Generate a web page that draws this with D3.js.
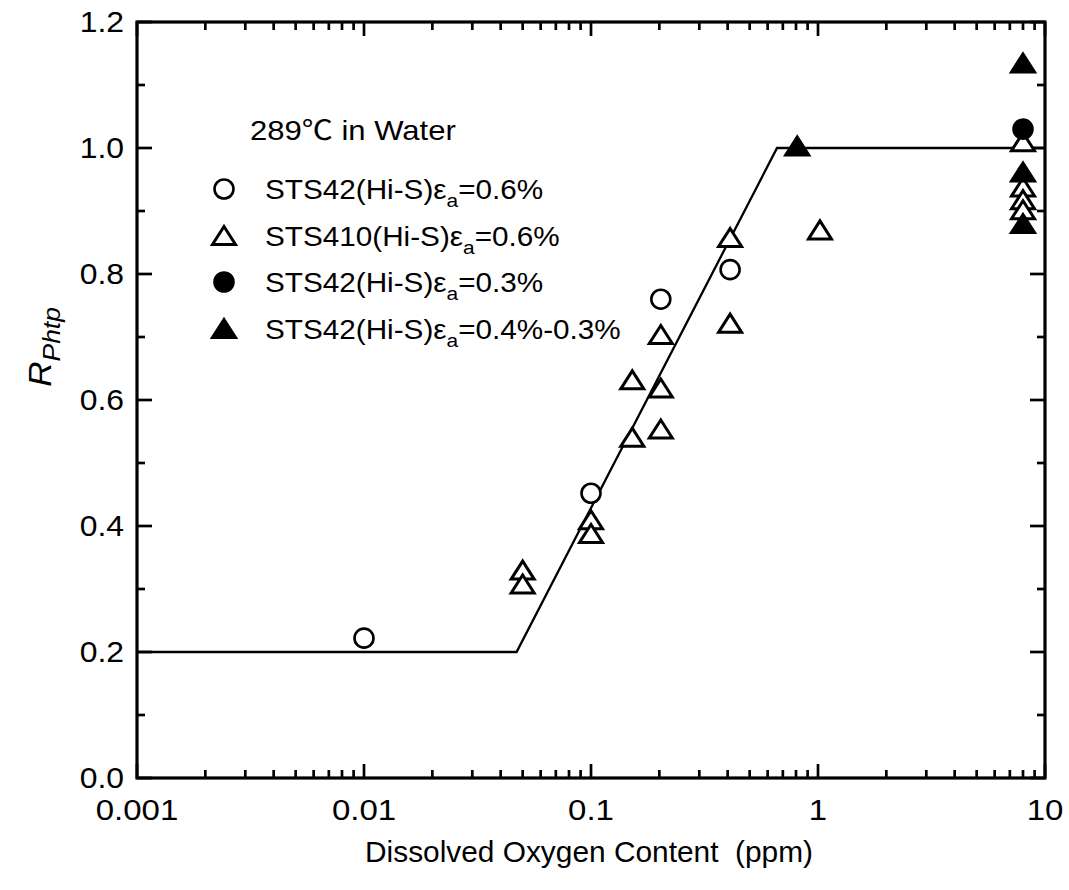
<!DOCTYPE html>
<html>
<head>
<meta charset="utf-8">
<script src="https://cdn.jsdelivr.net/npm/d3@7"></script>
<style>
  body { margin: 0; background: #fff; }
  svg text { font-family: "Liberation Sans", Arial, sans-serif; fill: #000; white-space: pre; }
</style>
</head>
<body>
<svg width="1069" height="890"></svg>
<script>
// series: [oxygen ppm, R_Phtp]
const openCircles = [[0.01, 0.222], [0.1, 0.452], [0.203, 0.76], [0.41, 0.807]]
const openTriangles = [
  [0.05, 0.33], [0.05, 0.308], [0.1, 0.41], [0.1, 0.388],
  [0.152, 0.632], [0.152, 0.541], [0.203, 0.619], [0.203, 0.554], [0.203, 0.704],
  [0.41, 0.858], [0.41, 0.722], [1.02, 0.87],
  [8, 1.01], [8, 0.938], [8, 0.918], [8, 0.902]
]
const filledCircles = [[8, 1.03]]
const filledTriangles = [[0.81, 1.003], [8, 1.135], [8, 0.962], [8, 0.88]]
const fitLine = [[0.001, 0.2], [0.047, 0.2], [0.66, 1.0], [10, 1.0]]

const xTicks = [0.001, 0.01, 0.1, 1, 10]
const xTickLabels = ['0.001', '0.01', '0.1', '1', '10']
const yTicks = [0, 0.2, 0.4, 0.6, 0.8, 1.0, 1.2]
const yMinor = [0.1, 0.3, 0.5, 0.7, 0.9, 1.1]

const legendItems = [
  { type: 'circle', fill: false, label: ['STS42(Hi-S)ε', 'a', '=0.6%'] },
  { type: 'triangle', fill: false, label: ['STS410(Hi-S)ε', 'a', '=0.6%'] },
  { type: 'circle', fill: true, label: ['STS42(Hi-S)ε', 'a', '=0.3%'] },
  { type: 'triangle', fill: true, label: ['STS42(Hi-S)ε', 'a', '=0.4%-0.3%'] }
]

const svg = d3.select('svg')
const pLeft = 137, pRight = 1045, pTop = 22, pBottom = 778
const sx = 1.1 // the scanned lettering is a bit wider than Arial

const x = d3.scaleLog().domain([0.001, 10]).range([pLeft, pRight])
const y = d3.scaleLinear().domain([0, 1.2]).range([pBottom, pTop])

// minor ticks for log axis (2..9 of each decade)
const xMinor = []
for (let e = -3; e < 1; e++) {
  for (let k = 2; k <= 9; k++) xMinor.push(k * Math.pow(10, e))
}

const g = svg.append('g')
const ticks = g.append('g').attr('stroke', '#000').attr('stroke-width', 2.7)

// inward ticks on all four sides
function xTickLines(vals, len) {
  ticks.selectAll(null).data(vals).enter().append('line')
    .attr('x1', d => x(d)).attr('x2', d => x(d))
    .attr('y1', pBottom).attr('y2', pBottom - len)
  ticks.selectAll(null).data(vals).enter().append('line')
    .attr('x1', d => x(d)).attr('x2', d => x(d))
    .attr('y1', pTop).attr('y2', pTop + len)
}
function yTickLines(vals, len) {
  ticks.selectAll(null).data(vals).enter().append('line')
    .attr('y1', d => y(d)).attr('y2', d => y(d))
    .attr('x1', pLeft).attr('x2', pLeft + len)
  ticks.selectAll(null).data(vals).enter().append('line')
    .attr('y1', d => y(d)).attr('y2', d => y(d))
    .attr('x1', pRight).attr('x2', pRight - len)
}
xTickLines(xTicks, 14)
xTickLines(xMinor, 8)
yTickLines(yTicks, 15)
yTickLines(yMinor, 8)

// frame
g.append('rect')
  .attr('x', pLeft).attr('y', pTop)
  .attr('width', pRight - pLeft).attr('height', pBottom - pTop)
  .attr('fill', 'none').attr('stroke', '#000').attr('stroke-width', 3.2)

// tick labels
g.selectAll('text.xlab')
  .data(xTicks)
  .enter().append('text')
  .attr('class', 'xlab')
  .attr('transform', d => `translate(${x(d)},${pBottom + 42}) scale(${sx},1)`)
  .attr('text-anchor', 'middle')
  .style('font-size', '30px')
  .text((d, i) => xTickLabels[i])

g.selectAll('text.ylab')
  .data(yTicks)
  .enter().append('text')
  .attr('class', 'ylab')
  .attr('transform', d => `translate(${pLeft - 13},${y(d) + 10}) scale(${sx},1)`)
  .attr('text-anchor', 'end')
  .style('font-size', '29px')
  .text(d => d.toFixed(1))

// axis titles
g.append('text')
  .attr('transform', `translate(589,862) scale(1.03,1)`)
  .attr('text-anchor', 'middle')
  .style('font-size', '29px')
  .text('Dissolved Oxygen Content  (ppm)')

const yTitle = g.append('text')
  .attr('transform', `translate(51,347) rotate(-90) scale(${sx},1)`)
  .attr('text-anchor', 'middle')
  .style('font-size', '32px')
  .style('font-style', 'italic')
yTitle.append('tspan').text('R')
yTitle.append('tspan').attr('dy', 9).style('font-size', '24px').text('Phtp')

// fit line
const line = d3.line().x(d => x(d[0])).y(d => y(d[1]))
g.append('path')
  .datum(fitLine)
  .attr('d', line)
  .attr('fill', 'none')
  .attr('stroke', '#000')
  .attr('stroke-width', 2.3)

function triPath(w, h) {
  return `M0,${-h / 2}L${w / 2},${h / 2}L${-w / 2},${h / 2}Z`
}

function drawCircles(data, filled) {
  g.append('g').selectAll('circle')
    .data(data)
    .enter().append('circle')
    .attr('cx', d => x(d[0]))
    .attr('cy', d => y(d[1]))
    .attr('r', 9.5)
    .attr('fill', filled ? '#000' : '#fff')
    .attr('stroke', '#000')
    .attr('stroke-width', 2.6)
}

function drawTriangles(data, filled) {
  g.append('g').selectAll('path')
    .data(data)
    .enter().append('path')
    .attr('transform', d => `translate(${x(d[0])},${y(d[1])})`)
    .attr('d', triPath(23, 18))
    .attr('fill', filled ? '#000' : '#fff')
    .attr('stroke', '#000')
    .attr('stroke-width', 3)
}

drawTriangles(openTriangles, false)
drawCircles(openCircles, false)
drawTriangles(filledTriangles, true)
drawCircles(filledCircles, true)

// legend
const legend = g.append('g')
const head = legend.append('text')
  .attr('transform', `translate(250,140) scale(1.15,1)`)
  .style('font-size', '27px')
head.append('tspan').text('289')
head.append('tspan').style('font-family', '"Noto Sans CJK SC", "DejaVu Sans", sans-serif').text('℃')
head.append('tspan').text(' in Water')

legendItems.forEach(function (item, i) {
  const cy = 189 + i * 46.5
  if (item.type === 'circle') {
    legend.append('circle')
      .attr('cx', 224).attr('cy', cy).attr('r', 9.5)
      .attr('fill', item.fill ? '#000' : '#fff')
      .attr('stroke', '#000').attr('stroke-width', 2.6)
  } else {
    legend.append('path')
      .attr('transform', `translate(224,${cy})`)
      .attr('d', triPath(23, 18))
      .attr('fill', item.fill ? '#000' : '#fff')
      .attr('stroke', '#000').attr('stroke-width', 3)
  }
  const t = legend.append('text')
    .attr('transform', `translate(265,${cy + 10}) scale(${sx},1)`)
    .style('font-size', '27px')
  t.append('tspan').text(item.label[0])
  t.append('tspan').attr('dy', 8).style('font-size', '19px').text(item.label[1])
  t.append('tspan').attr('dy', -8).text(item.label[2])
})
</script>
</body>
</html>
